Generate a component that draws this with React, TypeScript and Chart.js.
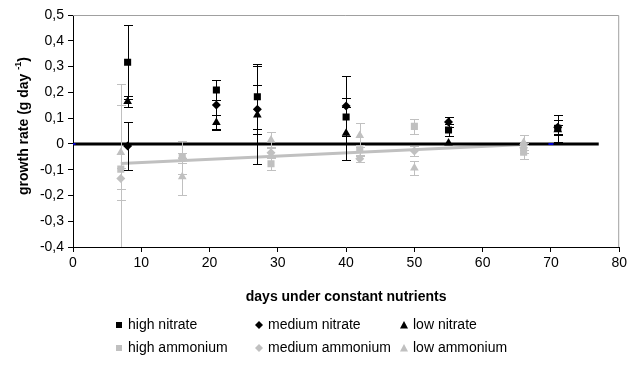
import { useEffect, useRef } from 'react';
import { Chart, registerables } from 'chart.js';

Chart.register(...registerables);

// Sampling days for each nutrient source
const nitrateDays = [8, 21, 27, 40, 55, 71];
const ammoniumDays = [7, 16, 29, 42, 50, 66];

// Mean growth rates (g day-1) and their error margins
const highNitrate = [0.317, 0.209, 0.183, 0.104, 0.054, 0.061];
const highNitrateErr = [0.143, 0.039, 0.127, 0.074, 0.023, 0.052];
const mediumNitrate = [-0.008, 0.151, 0.134, 0.147, 0.085, 0.065];
const mediumNitrateErr = [0.093, 0.095, 0.095, 0.117, 0.021, 0.028];
const lowNitrate = [0.164, 0.083, 0.112, 0.041, 0.003, 0.055];
const lowNitrateErr = [0.022, 0.03, 0.19, 0.102, 0.0, 0.02];

const highAmmonium = [-0.098, -0.053, -0.077, -0.023, 0.068, -0.032];
const highAmmoniumErr = [0.33, 0.065, 0.025, 0.02, 0.03, 0.027];
const mediumAmmonium = [-0.134, -0.055, -0.034, -0.058, -0.028, -0.015];
const mediumAmmoniumErr = [0.04, 0.02, 0.02, 0.012, 0.02, 0.02];
const lowAmmonium = [-0.033, -0.127, 0.015, 0.033, -0.094, 0.005];
const lowAmmoniumErr = [0.185, 0.073, 0.031, 0.047, 0.026, 0.03];

// Linear trends
const nitrateTrendDays = [0, 77];
const nitrateTrend = [0, 0];
const ammoniumTrendDays = [7, 66];
const ammoniumTrend = [-0.076, -0.002];
const markerDays = [0, 70];
const markerValues = [0, 0];

// Axis ticks
const xTickValues = [0, 10, 20, 30, 40, 50, 60, 70, 80];
const yTickValues = [-0.4, -0.3, -0.2, -0.1, 0, 0.1, 0.2, 0.3, 0.4, 0.5];

const BLACK = '#000000';
const GREY = '#c0c0c0';
const FONT = "'Liberation Sans', Arial, sans-serif";

const toPoints = (xs: number[], ys: number[]) => xs.map((x, i) => ({ x, y: ys[i] }));

type Series = {
  label: string;
  days: number[];
  values: number[];
  errors: number[];
  color: string;
  style: 'rect' | 'rectRot' | 'triangle';
  radius: number;
};

const series: Series[] = [
  { label: 'high nitrate', days: nitrateDays, values: highNitrate, errors: highNitrateErr, color: BLACK, style: 'rect', radius: 5 },
  { label: 'medium nitrate', days: nitrateDays, values: mediumNitrate, errors: mediumNitrateErr, color: BLACK, style: 'rectRot', radius: 4.5 },
  { label: 'low nitrate', days: nitrateDays, values: lowNitrate, errors: lowNitrateErr, color: BLACK, style: 'triangle', radius: 5 },
  { label: 'high ammonium', days: ammoniumDays, values: highAmmonium, errors: highAmmoniumErr, color: GREY, style: 'rect', radius: 5 },
  { label: 'medium ammonium', days: ammoniumDays, values: mediumAmmonium, errors: mediumAmmoniumErr, color: GREY, style: 'rectRot', radius: 4.5 },
  { label: 'low ammonium', days: ammoniumDays, values: lowAmmonium, errors: lowAmmoniumErr, color: GREY, style: 'triangle', radius: 5 },
];

const formatY = (v: number) => (Math.abs(v) < 1e-9 ? '0' : v.toFixed(1).replace('.', ','));

// Vertical error bars with caps, drawn right before each series' markers
const errorBarPlugin = {
  id: 'errorBars',
  beforeDatasetDraw(chart: any, args: any) {
    const ds = chart.data.datasets[args.index];
    if (!ds.errors) return;
    const { ctx, chartArea } = chart;
    const yScale = chart.scales.y;
    ctx.save();
    ctx.beginPath();
    ctx.rect(chartArea.left, chartArea.top - 20, chartArea.right - chartArea.left, chartArea.bottom - chartArea.top + 20);
    ctx.clip();
    ctx.strokeStyle = ds.borderColor;
    ctx.lineWidth = 1;
    const cap = 4.5;
    args.meta.data.forEach((el: any, i: number) => {
      const v = ds.data[i].y;
      const e = ds.errors[i];
      if (!e) return;
      const x = Math.round(el.x) + 0.5;
      const yTop = Math.round(yScale.getPixelForValue(v + e)) + 0.5;
      const yBot = Math.round(yScale.getPixelForValue(v - e)) + 0.5;
      ctx.beginPath();
      ctx.moveTo(x, yTop);
      ctx.lineTo(x, yBot);
      ctx.moveTo(x - cap, yTop);
      ctx.lineTo(x + cap, yTop);
      ctx.moveTo(x - cap, yBot);
      ctx.lineTo(x + cap, yBot);
      ctx.stroke();
    });
    ctx.restore();
  },
};

// Plot-area frame, axis titles and the three-column legend
const decorPlugin = {
  id: 'decor',
  beforeDatasetsDraw(chart: any) {
    const { ctx, chartArea } = chart;
    ctx.save();
    ctx.strokeStyle = '#a0a0a0';
    ctx.lineWidth = 1;
    ctx.beginPath();
    ctx.moveTo(chartArea.left, chartArea.top + 0.5);
    ctx.lineTo(chartArea.right - 0.5, chartArea.top + 0.5);
    ctx.lineTo(chartArea.right - 0.5, chartArea.bottom);
    ctx.stroke();
    ctx.restore();
  },
  afterDraw(chart: any) {
    const { ctx, chartArea } = chart;
    ctx.save();
    ctx.fillStyle = '#000';

    // x-axis title
    ctx.font = `bold 14px ${FONT}`;
    ctx.textAlign = 'center';
    ctx.textBaseline = 'middle';
    ctx.fillText('days under constant nutrients', (chartArea.left + chartArea.right) / 2, 297);

    // y-axis title with superscript exponent
    ctx.save();
    ctx.translate(24, 126);
    ctx.rotate(-Math.PI / 2);
    const partA = 'growth rate (g day ';
    const sup = '-1';
    const partC = ')';
    ctx.font = `bold 14px ${FONT}`;
    const wA = ctx.measureText(partA).width;
    const wC = ctx.measureText(partC).width;
    ctx.font = `bold 9px ${FONT}`;
    const wS = ctx.measureText(sup).width;
    const total = wA + wS + wC;
    let cx = -total / 2;
    ctx.textAlign = 'left';
    ctx.textBaseline = 'middle';
    ctx.font = `bold 14px ${FONT}`;
    ctx.fillText(partA, cx, 0);
    cx += wA;
    ctx.font = `bold 9px ${FONT}`;
    ctx.fillText(sup, cx, -5);
    cx += wS;
    ctx.font = `bold 14px ${FONT}`;
    ctx.fillText(partC, cx, 0);
    ctx.restore();

    // legend
    const colX = [119, 259, 404];
    const rowY = [325, 348];
    ctx.font = `14px ${FONT}`;
    ctx.textAlign = 'left';
    ctx.textBaseline = 'middle';
    series.forEach((s, i) => {
      const mx = colX[i % 3];
      const my = rowY[Math.floor(i / 3)];
      ctx.fillStyle = s.color;
      ctx.beginPath();
      if (s.style === 'rect') {
        ctx.rect(mx - 3, my - 3, 6, 6);
      } else if (s.style === 'rectRot') {
        ctx.moveTo(mx, my - 4);
        ctx.lineTo(mx + 4, my);
        ctx.lineTo(mx, my + 4);
        ctx.lineTo(mx - 4, my);
        ctx.closePath();
      } else {
        ctx.moveTo(mx, my - 4);
        ctx.lineTo(mx + 4, my + 3.5);
        ctx.lineTo(mx - 4, my + 3.5);
        ctx.closePath();
      }
      ctx.fill();
      ctx.fillStyle = '#000';
      ctx.fillText(s.label, mx + 9, my);
    });
    ctx.restore();
  },
};

export default function App() {
  const canvasRef = useRef<HTMLCanvasElement | null>(null);

  useEffect(() => {
    if (!canvasRef.current) return;

    const markerSets = series.map((s, i) => ({
      label: s.label,
      data: toPoints(s.days, s.values),
      errors: s.errors,
      showLine: false,
      pointStyle: s.style,
      pointRadius: s.radius,
      pointBackgroundColor: s.color,
      pointBorderColor: s.color,
      pointBorderWidth: 0,
      borderColor: s.color,
      backgroundColor: s.color,
      order: i < 3 ? 1 + i : 4 + (i - 3),
    }));

    const chart = new Chart(canvasRef.current, {
      type: 'scatter',
      data: {
        datasets: [
          {
            label: 'ammonium trend',
            data: toPoints(ammoniumTrendDays, ammoniumTrend),
            showLine: true,
            borderColor: GREY,
            borderWidth: 3,
            pointRadius: 0,
            order: 20,
          } as any,
          {
            label: 'nitrate trend',
            data: toPoints(nitrateTrendDays, nitrateTrend),
            showLine: true,
            borderColor: BLACK,
            borderWidth: 3,
            pointRadius: 0,
            order: 19,
          },
          {
            label: 'markers',
            data: toPoints(markerDays, markerValues),
            showLine: false,
            pointStyle: 'line',
            pointRadius: 2.5,
            pointBorderWidth: 2,
            pointBorderColor: '#0000cc',
            order: 18,
          },
          ...markerSets,
        ],
      },
      options: {
        responsive: false,
        animation: false,
        devicePixelRatio: 1,
        layout: { padding: { top: 15, right: 7, left: 0, bottom: 0 } },
        plugins: {
          legend: { display: false },
          tooltip: { enabled: false },
        },
        scales: {
          x: {
            type: 'linear',
            min: 0,
            max: 80,
            afterFit: (scale: any) => {
              scale.height = 131;
            },
            afterBuildTicks: (scale: any) => {
              scale.ticks = xTickValues.map((v) => ({ value: v }));
            },
            ticks: {
              color: '#000',
              font: { family: FONT, size: 14 },
              padding: 3,
              maxRotation: 0,
              autoSkip: false,
            },
            grid: {
              display: true,
              drawOnChartArea: false,
              drawTicks: true,
              tickLength: 5,
              color: '#000',
            },
            border: { display: true, color: '#000', width: 1 },
          },
          y: {
            type: 'linear',
            min: -0.4,
            max: 0.5,
            afterFit: (scale: any) => {
              scale.width = 73;
            },
            afterBuildTicks: (scale: any) => {
              scale.ticks = yTickValues.map((v) => ({ value: v }));
            },
            ticks: {
              color: '#000',
              font: { family: FONT, size: 14 },
              padding: 4,
              autoSkip: false,
              callback: (v: any) => formatY(Number(v)),
            },
            grid: {
              display: true,
              drawOnChartArea: false,
              drawTicks: true,
              tickLength: 5,
              color: '#000',
            },
            border: { display: true, color: '#000', width: 1 },
          },
        },
      },
      plugins: [errorBarPlugin, decorPlugin],
    });

    return () => chart.destroy();
  }, []);

  return (
    <div style={{ position: 'fixed', left: 0, top: 0, width: 630, height: 378, background: '#fff' }}>
      <canvas ref={canvasRef} width={630} height={378} style={{ display: 'block', width: 630, height: 378 }} />
    </div>
  );
}
